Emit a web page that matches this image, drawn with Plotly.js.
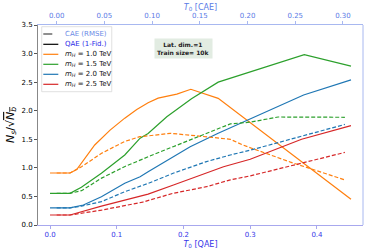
<!DOCTYPE html>
<html><head><meta charset="utf-8">
<script src="https://cdn.plot.ly/plotly-3.0.1.min.js"></script>
<style>html,body{margin:0;padding:0;background:#fff}#c{width:372px;height:252px}</style>
</head><body><div id="c"></div>
<script>
// QAE (solid, bottom axis T0 [QAE])
const qae_T_10 = [0, 0.03, 0.04, 0.067, 0.09, 0.112, 0.13, 0.147, 0.162, 0.19, 0.211, 0.252, 0.451];
const qae_S_10 = [0.91, 0.91, 0.97, 1.40, 1.66, 1.87, 2.02, 2.14, 2.22, 2.29, 2.375, 2.217, 0.45];
const qae_T_15 = [0, 0.03, 0.047, 0.077, 0.112, 0.135, 0.147, 0.175, 0.212, 0.252, 0.381, 0.451];
const qae_S_15 = [0.555, 0.555, 0.66, 0.905, 1.225, 1.52, 1.60, 1.895, 2.21, 2.50, 2.98, 2.78];
const qae_T_20 = [0, 0.03, 0.05, 0.077, 0.112, 0.135, 0.147, 0.21, 0.252, 0.38, 0.451];
const qae_S_20 = [0.30, 0.30, 0.35, 0.495, 0.73, 0.845, 0.93, 1.37, 1.605, 2.275, 2.54];
const qae_T_25 = [0, 0.03, 0.077, 0.135, 0.147, 0.185, 0.22, 0.26, 0.30, 0.377, 0.451];
const qae_S_25 = [0.175, 0.175, 0.33, 0.51, 0.54, 0.70, 0.845, 1.02, 1.15, 1.50, 1.74];
// CAE (dashed, top axis T0 [CAE])
const cae_T_10 = [0, 0.014, 0.026, 0.047, 0.071, 0.087, 0.096, 0.119, 0.147, 0.182, 0.195, 0.245, 0.302];
const cae_S_10 = [0.91, 0.91, 1.02, 1.255, 1.46, 1.545, 1.56, 1.605, 1.56, 1.50, 1.40, 1.10, 0.79];
const cae_T_15 = [0, 0.014, 0.026, 0.047, 0.071, 0.087, 0.096, 0.122, 0.157, 0.182, 0.203, 0.232, 0.302];
const cae_S_15 = [0.555, 0.555, 0.60, 0.82, 1.02, 1.14, 1.195, 1.37, 1.605, 1.77, 1.80, 1.89, 1.885];
const cae_T_20 = [0, 0.014, 0.026, 0.047, 0.071, 0.087, 0.096, 0.122, 0.157, 0.182, 0.203, 0.302];
const cae_S_20 = [0.30, 0.30, 0.33, 0.41, 0.58, 0.67, 0.73, 0.905, 1.11, 1.225, 1.31, 1.76];
const cae_T_25 = [0, 0.014, 0.047, 0.09, 0.122, 0.157, 0.182, 0.203, 0.302];
const cae_S_25 = [0.175, 0.175, 0.26, 0.40, 0.555, 0.67, 0.79, 0.86, 1.27];

const masses = ['1.0', '1.5', '2.0', '2.5'];
const colors = ['#ff7f0e', '#2ca02c', '#1f77b4', '#d62728'];
const legendLabels = ['CAE (RMSE)', 'QAE (1-Fid.)'].concat(masses.map(m => '<i>m<sub>H</sub></i> = ' + m + ' TeV'));
const qaeT = [qae_T_10, qae_T_15, qae_T_20, qae_T_25];
const qaeS = [qae_S_10, qae_S_15, qae_S_20, qae_S_25];
const caeT = [cae_T_10, cae_T_15, cae_T_20, cae_T_25];
const caeS = [cae_S_10, cae_S_15, cae_S_20, cae_S_25];

const traces = [];
for (let i = 0; i < 4; i++) {
  traces.push({x:qaeT[i], y:qaeS[i], mode:'lines', name:legendLabels[i+2], showlegend:false,
    line:{color:colors[i], width:1.2}});
}
for (let i = 0; i < 4; i++) {
  traces.push({x:caeT[i], y:caeS[i], xaxis:'x2', mode:'lines', showlegend:false,
    line:{color:colors[i], width:1.2, dash:'4px,2px'}});
}

// manual compact legend (paper coordinates)
const legX0 = 0.0114, legX1 = 0.227, legY0 = 0.6665, legY1 = 0.9915;
const rowY = [0.955, 0.9035, 0.8535, 0.8035, 0.7535, 0.7035];
const sampleColors = ['#444', '#000'].concat(colors);
const sampleDash = ['dash', 'solid', 'solid', 'solid', 'solid', 'solid'];
const textColors = ['#6a8ae6', '#2a2ae8', '#111', '#111', '#111', '#111'];
const shapes = [
  {type:'rect', xref:'paper', yref:'paper', x0:legX0, x1:legX1, y0:legY0, y1:legY1,
   fillcolor:'rgba(255,255,255,0.85)', line:{color:'#d8d8d8', width:0.8}},
  {type:'line', xref:'paper', yref:'paper', x0:1, x1:1, y0:0, y1:1, line:{color:'#a8b8f0', width:1}}
];
const annotations = [{xref:'paper', yref:'paper', x:0.449, y:0.885, xanchor:'center', yanchor:'middle', showarrow:false,
    text:'<b>Lat. dim.=1<br>Train size= 10k</b>', font:{size:6, color:'#222'}, bgcolor:'#e2ece2',
    borderpad:2, align:'center'}];
for (let k = 0; k < 6; k++) {
  shapes.push({type:'line', xref:'paper', yref:'paper', x0:0.0163, x1:0.0625, y0:rowY[k], y1:rowY[k],
    line:{color:sampleColors[k], width:1.2, dash:sampleDash[k]}});
  annotations.push({xref:'paper', yref:'paper', x:0.076, y:rowY[k], xanchor:'left', yanchor:'middle',
    showarrow:false, text:legendLabels[k], font:{size:7, color:textColors[k]}});
}

const layout = {
  width:372, height:252,
  margin:{l:38, r:9, t:25, b:27},
  paper_bgcolor:'#fff', plot_bgcolor:'#fff',
  font:{family:'DejaVu Sans', size:7, color:'#000'},
  showlegend:false,
  xaxis:{range:[-0.018, 0.469], tickvals:[0,0.1,0.2,0.3,0.4], ticktext:['0.0','0.1','0.2','0.3','0.4'],
    showgrid:false, zeroline:false, showline:true, linecolor:'#a8a8ee', linewidth:1,
    ticks:'outside', ticklen:3, tickcolor:'#a8a8ee', tickfont:{color:'#3535e8', size:7},
    title:{text:'<i>T</i><sub>0</sub> [QAE]', font:{color:'#3535e8', size:8}, standoff:2}},
  xaxis2:{range:[-0.0196, 0.321], overlaying:'x', side:'top', tickvals:[0,0.05,0.1,0.15,0.2,0.25,0.3],
    ticktext:['0.00','0.05','0.10','0.15','0.20','0.25','0.30'],
    showgrid:false, zeroline:false, showline:true, linecolor:'#a8b8f0', linewidth:1,
    ticks:'outside', ticklen:3, tickcolor:'#a8b8f0', tickfont:{color:'#5a7ae6', size:7},
    title:{text:'<i>T</i><sub>0</sub> [CAE]', font:{color:'#5a7ae6', size:8}, standoff:0}},
  yaxis:{range:[0, 3.5], dtick:0.5, tickformat:'.1f', showgrid:false, zeroline:false,
    showline:true, linecolor:'#888', linewidth:1, ticks:'outside', ticklen:3, tickcolor:'#555',
    tickfont:{size:7},
    title:{text:'<i>N<sub>s</sub></i>/√<span style="text-decoration:overline"><i>N<sub>b</sub></i></span>', font:{size:11}, standoff:4}},
  shapes:shapes,
  annotations:annotations
};
Plotly.newPlot('c', traces, layout, {displayModeBar:false, staticPlot:true});
</script></body></html>
